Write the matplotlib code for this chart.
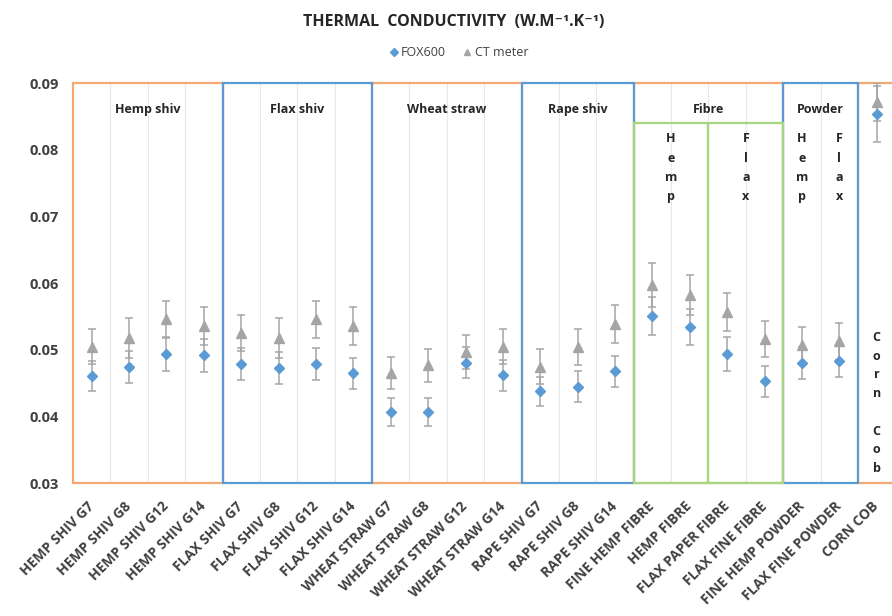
import matplotlib
matplotlib.use("Agg")
import matplotlib.pyplot as plt
from matplotlib.patches import Rectangle
from matplotlib.lines import Line2D
import numpy as np

plt.rcParams['font.family'] = ['Open Sans', 'DejaVu Sans']

categories = ["HEMP SHIV G7", "HEMP SHIV G8", "HEMP SHIV G12", "HEMP SHIV G14",
              "FLAX SHIV G7", "FLAX SHIV G8", "FLAX SHIV G12", "FLAX SHIV G14",
              "WHEAT STRAW G7", "WHEAT STRAW G8", "WHEAT STRAW G12", "WHEAT STRAW G14",
              "RAPE SHIV G7", "RAPE SHIV G8", "RAPE SHIV G14",
              "FINE HEMP FIBRE", "HEMP FIBRE", "FLAX PAPER FIBRE", "FLAX FINE FIBRE",
              "FINE HEMP POWDER", "FLAX FINE POWDER", "CORN COB"]

fox600 = [0.0461, 0.0475, 0.0494, 0.0492,
          0.0479, 0.0473, 0.0479, 0.0465,
          0.0407, 0.0407, 0.0481, 0.0462,
          0.0438, 0.0445, 0.0468,
          0.0551, 0.0534, 0.0494, 0.0453,
          0.0480, 0.0483, 0.0854]
fox600_err = [0.0022, 0.0024, 0.0025, 0.0025,
              0.0024, 0.0024, 0.0024, 0.0023,
              0.0021, 0.0021, 0.0023, 0.0023,
              0.0022, 0.0023, 0.0023,
              0.0029, 0.0027, 0.0025, 0.0023,
              0.0024, 0.0024, 0.0042]
ct_meter = [0.0505, 0.0518, 0.0546, 0.0536,
            0.0525, 0.0518, 0.0546, 0.0536,
            0.0465, 0.0477, 0.0497, 0.0505,
            0.0475, 0.0505, 0.0539,
            0.0597, 0.0582, 0.0557, 0.0517,
            0.0508, 0.0513, 0.0872]
ct_meter_err = [0.0026, 0.0030, 0.0028, 0.0029,
                0.0027, 0.0030, 0.0028, 0.0028,
                0.0024, 0.0025, 0.0025, 0.0026,
                0.0026, 0.0027, 0.0028,
                0.0033, 0.0030, 0.0029, 0.0027,
                0.0027, 0.0028, 0.0029]

# groups: (label, first index, last index, colour)
groups = [("Hemp shiv", 0, 3, "orange"), ("Flax shiv", 4, 7, "blue"),
          ("Wheat straw", 8, 11, "orange"), ("Rape shiv", 12, 14, "blue"),
          ("Fibre", 15, 18, "orange"), ("Powder", 19, 20, "blue"),
          ("", 21, 21, "orange")]
fibre_sub = [("Hemp", 15, 16), ("Flax", 17, 18)]
powder_sub = [("Hemp", 19), ("Flax", 20)]
corn_label = ["C", "o", "r", "n", "", "C", "o", "b"]

yticks = [0.03, 0.04, 0.05, 0.06, 0.07, 0.08, 0.09]

COL = {"orange": "#F4A874", "blue": "#5B9BD5", "green": "#A6D682"}
BLUE = "#5B9BD5"
GRAY = "#A5A5A5"
TXT = "#404040"

fig = plt.figure(figsize=(8.92, 6.16), dpi=100)
ax = fig.add_axes([73 / 892, 132.7 / 616, 822.4 / 892, 400 / 616])

x = np.arange(len(categories))
ymin, ymax = 0.03, 0.09
ax.set_xlim(-0.5, len(categories) - 0.5)
ax.set_ylim(ymin, ymax)

# vertical grid lines
for b in x[:-1] + 0.5:
    ax.axvline(b, color="#E8E8E8", lw=0.8, zorder=0)

# error bars
ax.errorbar(x, ct_meter, yerr=ct_meter_err, fmt="none", ecolor=GRAY,
            elinewidth=1.1, capsize=3, capthick=1.1, zorder=3)
ax.errorbar(x, fox600, yerr=fox600_err, fmt="none", ecolor=GRAY,
            elinewidth=1.1, capsize=3, capthick=1.1, zorder=3)
ax.plot(x, ct_meter, linestyle="none", marker="^", ms=7, color=GRAY,
        mec=GRAY, zorder=4)
ax.plot(x, fox600, linestyle="none", marker="D", ms=5, color=BLUE,
        mec=BLUE, zorder=5)

# group boxes
fibre_split = 0.0841
for order in ("orange", "blue"):
    for name, a, b, c in groups:
        if c != order:
            continue
        r = Rectangle((a - 0.5, ymin), b - a + 1, ymax - ymin, fill=False,
                      ec=COL[c], lw=1.6, zorder=2, clip_on=False)
        ax.add_patch(r)
for name, a, b in fibre_sub:
    r = Rectangle((a - 0.5, ymin), b - a + 1, fibre_split - ymin, fill=False,
                  ec=COL["green"], lw=1.6, zorder=2, clip_on=False)
    ax.add_patch(r)

# group labels
for name, a, b, c in groups:
    if name:
        ax.text((a + b) / 2, 0.0860, name, ha="center", va="center",
                fontsize=9, fontweight="bold", color="#262626")


def vertical_word(xc, ytop, letters, step):
    for k, ch in enumerate(letters):
        if ch:
            ax.annotate(ch, (xc, ytop), xytext=(0, -k * step),
                        textcoords="offset points", ha="center", va="center",
                        fontsize=9, fontweight="bold", color="#262626")


for name, a, b in fibre_sub:
    vertical_word((a + b) / 2, 0.08165, list(name), 13.9)
for name, i in powder_sub:
    vertical_word(i, 0.08165, list(name), 13.9)
vertical_word(len(categories) - 1, 0.0519, corn_label, 13.5)

# axes styling
for s in ax.spines.values():
    s.set_visible(False)
ax.set_yticks(yticks)
ax.set_yticklabels([f"{v:.2f}" for v in yticks])
ax.tick_params(axis="y", length=0, pad=10, labelsize=10.5, labelcolor=TXT)
for lab in ax.get_yticklabels():
    lab.set_fontweight("bold")
ax.set_xticks(x)
ax.set_xticklabels(categories, rotation=45, ha="right", va="center",
                   rotation_mode="anchor", fontsize=10, color=TXT,
                   fontweight="bold")
ax.tick_params(axis="x", length=0, pad=15)

# title and legend
fig.text(454 / 892, 1 - 22 / 616, "THERMAL  CONDUCTIVITY  (W.M\u207b\u00b9.K\u207b\u00b9)",
         ha="center", va="center", fontsize=11.5, fontweight="bold",
         color="#262626")
handles = [Line2D([], [], linestyle="none", marker="D", ms=4, color=BLUE),
           Line2D([], [], linestyle="none", marker="^", ms=5, color=GRAY)]
fig.legend(handles, ["FOX600", "CT meter"], loc="center",
           bbox_to_anchor=(458 / 892, 1 - 53 / 616), ncol=2, frameon=False,
           fontsize=9, handletextpad=0.1, columnspacing=1.2,
           handlelength=1.0, labelcolor=TXT)

fig.savefig("out.png", dpi=100)
